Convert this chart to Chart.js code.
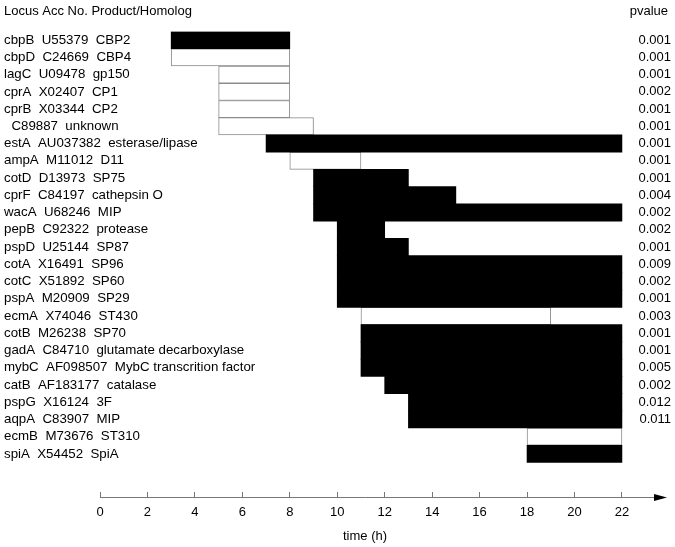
<!DOCTYPE html>
<html>
<head>
<meta charset="utf-8">
<script src="https://cdn.jsdelivr.net/npm/chart.js@4.4.0/dist/chart.umd.min.js"></script>
<style>
  html, body { margin: 0; padding: 0; background: #fff; }
  #wrap { width: 675px; height: 547px; position: relative; }
</style>
</head>
<body>
<div id="wrap"><canvas id="chart"></canvas></div>
<script>
'use strict';

// rows: locus, accession, product/homolog
const rowLabels = [
    'cbpB  U55379  CBP2', 'cbpD  C24669  CBP4', 'lagC  U09478  gp150', 'cprA  X02407  CP1',
    'cprB  X03344  CP2', '  C89887  unknown', 'estA  AU037382  esterase/lipase', 'ampA  M11012  D11',
    'cotD  D13973  SP75', 'cprF  C84197  cathepsin O', 'wacA  U68246  MIP', 'pepB  C92322  protease',
    'pspD  U25144  SP87', 'cotA  X16491  SP96', 'cotC  X51892  SP60', 'pspA  M20909  SP29',
    'ecmA  X74046  ST430', 'cotB  M26238  SP70', 'gadA  C84710  glutamate decarboxylase',
    'mybC  AF098507  MybC transcrition factor', 'catB  AF183177  catalase', 'pspG  X16124  3F',
    'aqpA  C83907  MIP', 'ecmB  M73676  ST310', 'spiA  X54452  SpiA'
];
const startHours = [3, 3, 5, 5, 5, 5, 7, 8, 9, 9, 9, 10, 10, 10, 10, 10, 11, 11, 11, 11, 12, 13, 13, 18, 18];
const endHours   = [8, 8, 8, 8, 8, 9, 22, 11, 13, 15, 22, 12, 13, 22, 22, 22, 19, 22, 22, 22, 22, 22, 22, 22, 22];
const isFilled   = [1, 0, 0, 0, 0, 0, 1, 0, 1, 1, 1, 1, 1, 1, 1, 1, 0, 1, 1, 1, 1, 1, 1, 0, 1];
const pValues = [
    '0.001', '0.001', '0.001', '0.002', '0.001', '0.001', '0.001', '0.001', '0.001', '0.004',
    '0.002', '0.002', '0.001', '0.009', '0.002', '0.001', '0.003', '0.001', '0.001', '0.005',
    '0.002', '0.012', '0.011', '', ''
];
const timeTicks = [0, 2, 4, 6, 8, 10, 12, 14, 16, 18, 20, 22];

const FONT = '"Liberation Sans", Arial, Helvetica, sans-serif';
Chart.defaults.font.family = FONT;
Chart.defaults.font.size = 13;
Chart.defaults.color = '#000';

// two empty rows below the data push the time axis down
const yLabels = rowLabels.concat(['', '']);
const pLabels = pValues.concat(['', '']);

const blackBars = startHours.map((s, i) => isFilled[i] ? [s, endHours[i]] : null);
const whiteBars = startHours.map((s, i) => isFilled[i] ? null : [s, endHours[i]]);

// header texts and the arrow at the end of the time axis
const decor = {
    id: 'decor',
    afterDraw(chart) {
        const ctx = chart.ctx;
        const xs = chart.scales.x;
        const y2 = chart.scales.y2;
        const yl = xs.top;
        ctx.save();
        ctx.strokeStyle = '#777';
        ctx.lineWidth = 1;
        ctx.beginPath();
        ctx.moveTo(chart.chartArea.right, yl + 0.5);
        ctx.lineTo(657, yl + 0.5);
        ctx.stroke();
        ctx.fillStyle = '#000';
        ctx.beginPath();
        ctx.moveTo(654, yl - 3);
        ctx.lineTo(667, yl + 0.5);
        ctx.lineTo(654, yl + 4);
        ctx.closePath();
        ctx.fill();

        ctx.font = '13px ' + FONT;
        ctx.textBaseline = 'middle';
        ctx.textAlign = 'left';
        ctx.fillText('Locus Acc No. Product/Homolog', 4, 11);
        ctx.textAlign = 'right';
        ctx.fillText('pvalue', y2.right - 3, 11);
        ctx.restore();
    }
};

new Chart(document.getElementById('chart'), {
    type: 'bar',
    data: {
        labels: yLabels,
        datasets: [
            { label: 'filled', data: blackBars, backgroundColor: '#000', borderWidth: 0 },
            { label: 'open', data: whiteBars, backgroundColor: '#fff', borderColor: '#8c8c8c', borderWidth: 1, borderSkipped: false }
        ]
    },
    options: {
        indexAxis: 'y',
        responsive: true,
        maintainAspectRatio: false,
        animation: false,
        grouped: false,
        categoryPercentage: 1.0,
        barPercentage: 1.0,
        layout: { padding: { top: 31.5, left: 4, right: 4, bottom: 0 } },
        plugins: { legend: { display: false }, tooltip: { enabled: false } },
        scales: {
            x: {
                type: 'linear',
                min: 0,
                max: 22.34,
                afterFit: s => { s.height = 50; },
                afterBuildTicks: s => { s.ticks = timeTicks.map(v => ({ value: v })); },
                ticks: { padding: 13, color: '#000', font: { size: 13 } },
                grid: { drawOnChartArea: false, tickLength: -5, color: '#777' },
                border: { color: '#777', width: 1 },
                title: { display: true, text: 'time (h)', color: '#000', font: { size: 13 }, padding: { top: 0, bottom: 3 } }
            },
            y: {
                offset: true,
                afterFit: s => { s.width = 96; },
                // mirrored so the long labels are not clipped to the axis box
                ticks: { autoSkip: false, mirror: true, padding: -96, color: '#000', font: { size: 13.3 } },
                grid: { display: false },
                border: { display: false }
            },
            y2: {
                type: 'category',
                position: 'right',
                labels: pLabels,
                offset: true,
                afterFit: s => { s.width = 41; },
                ticks: { autoSkip: false, crossAlign: 'far', padding: 0, color: '#000', font: { size: 13 } },
                grid: { display: false },
                border: { display: false }
            }
        }
    },
    plugins: [decor]
});
</script>
</body>
</html>
